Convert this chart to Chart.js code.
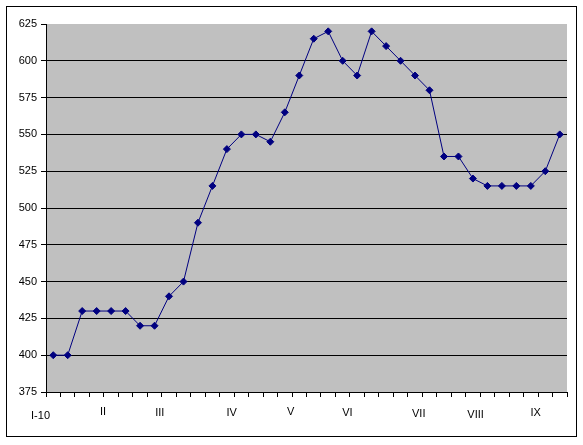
<!DOCTYPE html>
<html>
<head>
<meta charset="utf-8">
<script src="https://cdn.jsdelivr.net/npm/chart.js@4"></script>
<style>
    html, body { margin: 0; padding: 0; background: #fff; }
    canvas { display: block; }
</style>
</head>
<body>
<canvas id="myChart" width="583" height="445"></canvas>
<script>
// Month labels (one label every ~4 weeks)
const categories = ['I-10', '', '', '', 'II', '', '', '', 'III', '', '', '', '', 'IV', '', '', '', 'V',
    '', '', '', 'VI', '', '', '', '', 'VII', '', '', '', 'VIII', '', '', '', 'IX', ''];

// Values
const values = [400, 400, 430, 430, 430, 430, 420, 420, 440, 450, 490, 515,
    540, 550, 550, 545, 565, 590, 615, 620, 600, 590, 620, 610,
    600, 590, 580, 535, 535, 520, 515, 515, 515, 515, 525, 550];

const yMin = 375;
const yMax = 625;
const yStep = 25;

const font = { family: "'Liberation Sans', Arial, sans-serif", size: 11 };

// Grey plot area, outer frame and category labels, Excel style
const frame = {
    id: 'frame',
    beforeDraw(chart) {
        const ctx = chart.ctx;
        const a = chart.chartArea;
        ctx.save();
        ctx.fillStyle = '#fff';
        ctx.fillRect(0, 0, chart.width, chart.height);
        ctx.fillStyle = '#c0c0c0';
        ctx.fillRect(a.left, a.top, a.right - a.left, a.bottom - a.top);
        ctx.restore();
    },
    afterDraw(chart) {
        const ctx = chart.ctx;
        const xScale = chart.scales.x;
        ctx.save();
        ctx.fillStyle = '#000';
        ctx.font = font.size + 'px ' + font.family;
        ctx.textAlign = 'center';
        ctx.textBaseline = 'middle';
        // the renderer keeps text upright, so put each label where the
        // middle of a 45 degree label would sit
        chart.data.labels.forEach(function(label, i) {
            if (!label) return;
            const x = xScale.getPixelForValue(i);
            const half = ctx.measureText(label).width * 0.354;
            ctx.fillText(label, x - 6 - half, xScale.top + 17.5 + half);
        });
        ctx.strokeStyle = '#000';
        ctx.lineWidth = 1;
        ctx.strokeRect(6.5, 6.5, 570, 430);
        ctx.restore();
    }
};

const ctx = document.getElementById('myChart').getContext('2d');
const myChart = new Chart(ctx, {
    type: 'line',
    data: {
        labels: categories,
        datasets: [{
            data: values,
            borderColor: '#000080',
            backgroundColor: '#000080',
            borderWidth: 1,
            pointStyle: 'rectRot',
            pointRadius: 3.5,
            pointBorderWidth: 1,
            tension: 0,
            fill: false
        }]
    },
    options: {
        responsive: false,
        animation: false,
        devicePixelRatio: 1,
        layout: {
            padding: { left: 0, top: 24, right: 16, bottom: 0 }
        },
        plugins: {
            legend: { display: false },
            tooltip: { enabled: false }
        },
        scales: {
            x: {
                offset: true,
                afterFit: function(scale) { scale.height = 53; },
                grid: {
                    offset: true,
                    drawOnChartArea: false,
                    tickLength: 5,
                    tickColor: '#000'
                },
                border: { color: '#000', width: 1 },
                ticks: {
                    display: false,
                    autoSkip: false
                }
            },
            y: {
                min: yMin,
                max: yMax,
                afterFit: function(scale) { scale.width = 46; },
                grid: {
                    color: function(c) { return c.tick && c.tick.value === yMax ? 'rgba(0,0,0,0)' : '#000'; },
                    tickLength: 5,
                    tickColor: '#000'
                },
                border: { color: '#000', width: 1 },
                ticks: {
                    stepSize: yStep,
                    padding: 4,
                    color: '#000',
                    font: font
                }
            }
        }
    },
    plugins: [frame]
});
</script>
</body>
</html>
